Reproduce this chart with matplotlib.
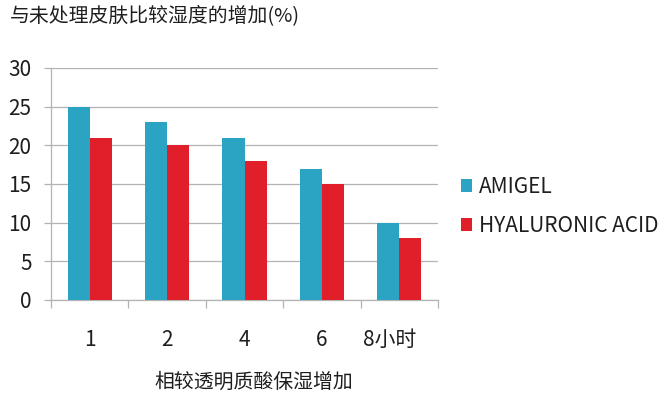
import matplotlib
matplotlib.use("Agg")
import matplotlib.pyplot as plt
import matplotlib.transforms as mtransforms
import numpy as np
from matplotlib.patches import Patch

plt.rcParams['font.family'] = ['Noto Sans CJK SC', 'DejaVu Sans']

categories = ["1", "2", "4", "6", "8小时"]
amigel = [25, 23, 21, 17, 10]
hyaluronic = [21, 20, 18, 15, 8]
yticks = [0, 5, 10, 15, 20, 25, 30]
title = "与未处理皮肤比较湿度的增加(%)"
xlabel = "相较透明质酸保湿增加"
series_names = ["AMIGEL", "HYALURONIC ACID"]

blue = "#2ba3c2"
red = "#e01f2b"
grid_c = "#b3b3b3"
txt_c = "#1e1e1e"

fig = plt.figure(figsize=(6.63, 3.94), dpi=100)
ax = fig.add_axes([51/663, 1-300/394, (438-51)/663, (300-68)/394])

x = np.arange(len(categories))
w = 0.285
ax.bar(x - w/2, amigel, width=w, color=blue, zorder=3)
ax.bar(x + w/2, hyaluronic, width=w, color=red, zorder=3)

ax.set_xlim(-0.5, len(categories) - 0.5)
ax.set_ylim(0, 30)
ax.set_yticks(yticks)
ax.set_yticklabels([str(v) for v in yticks], fontsize=15, color=txt_c)
ax.yaxis.grid(True, color=grid_c, linewidth=0.9, zorder=0)
ax.tick_params(axis='y', length=5, color=grid_c, width=0.9, pad=9)

ax.set_xticks(x)
ax.set_xticklabels(categories, fontsize=15, color=txt_c)
ax.set_xticks(np.arange(len(categories) + 1) - 0.5, minor=True)
ax.tick_params(axis='x', which='major', length=0, pad=21)
ax.tick_params(axis='x', which='minor', length=6, color=grid_c, width=0.9)
last = ax.get_xticklabels()[-1]
last.set_transform(last.get_transform() +
                   mtransforms.ScaledTranslation(-10/100, 0, fig.dpi_scale_trans))

for s in ["top", "right"]:
    ax.spines[s].set_visible(False)
for s in ["left", "bottom"]:
    ax.spines[s].set_color(grid_c)
    ax.spines[s].set_linewidth(0.9)

ax.set_xlabel(xlabel, fontsize=14.3, color=txt_c)
ax.xaxis.set_label_coords(0.5 + 9/387, -(372-300)/232)

fig.text(10/663, 1-16/394, title, fontsize=14.3, color=txt_c, va="center", ha="left")

handles = [Patch(facecolor=blue), Patch(facecolor=red)]
leg = fig.legend(handles, series_names, loc="upper left",
                 bbox_to_anchor=(461/663, 1-176/394), frameon=False,
                 borderpad=0, borderaxespad=0,
                 fontsize=15, handlelength=0.55, handleheight=0.55,
                 handletextpad=0.3, labelspacing=0.8)
for t in leg.get_texts():
    t.set_color(txt_c)

fig.savefig("out.png", dpi=100)
